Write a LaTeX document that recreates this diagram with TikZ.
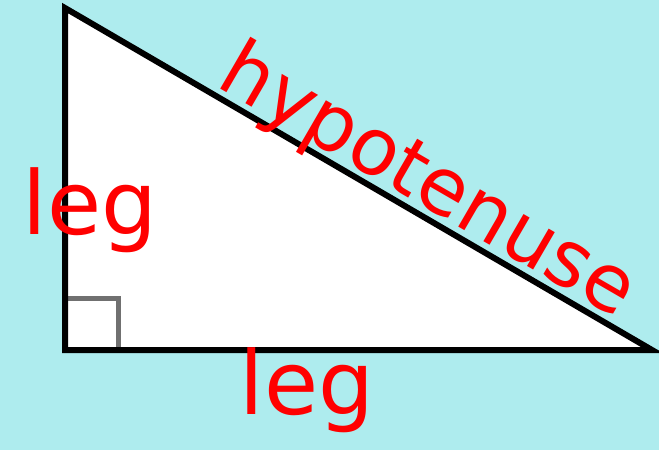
\documentclass[tikz,border=0pt]{standalone}
\usepackage{fontspec}
\newfontfamily\handfont{DejaVu Sans}
\definecolor{skyback}{RGB}{174,236,238}
\definecolor{penred}{RGB}{255,0,0}
\definecolor{markgray}{RGB}{112,112,112}
\begin{document}
\begin{tikzpicture}[x=1pt,y=1pt,yscale=-1,xscale=1,
	scrawl/.style={text=penred,inner sep=0pt,font=\handfont\fontsize{88}{88}\selectfont}]
		%Shape: Background Rectangle
		\fill [skyback] (0,0) rectangle (659,450);
		\useasboundingbox (0,0) rectangle (659,450);
		
		%Corners of the triangle
		\coordinate (top) at (65,8);
		\coordinate (corner) at (65,350);
		\coordinate (tip) at (652,350);
		\coordinate (markA) at (65,298);
		\coordinate (markB) at (118,298);
		\coordinate (markC) at (118,350);
		
		%Shape: Right Triangle (fill)
		\fill [white] (top) -- (corner) -- (tip) -- cycle;
		%Straight Lines: right angle mark
		\draw [markgray, line width=5] (markA) -- (markB) -- (markC);
		%Shape: Right Triangle (outline)
		\draw [line width=6, line join=miter] (top) -- (corner) -- (tip) -- cycle;
		
		% Text Node
		\node [scrawl, font=\handfont\fontsize{79}{79}\selectfont, rotate=-30.1, anchor=base] (hyp) at (416,202) {hypotenuse};
		% Text Node
		\node [scrawl, anchor=base] (legleft) at (90,234) {leg};
		% Text Node
		\node [scrawl, anchor=base] (legbottom) at (307,414) {leg};
	\end{tikzpicture}
\end{document}
